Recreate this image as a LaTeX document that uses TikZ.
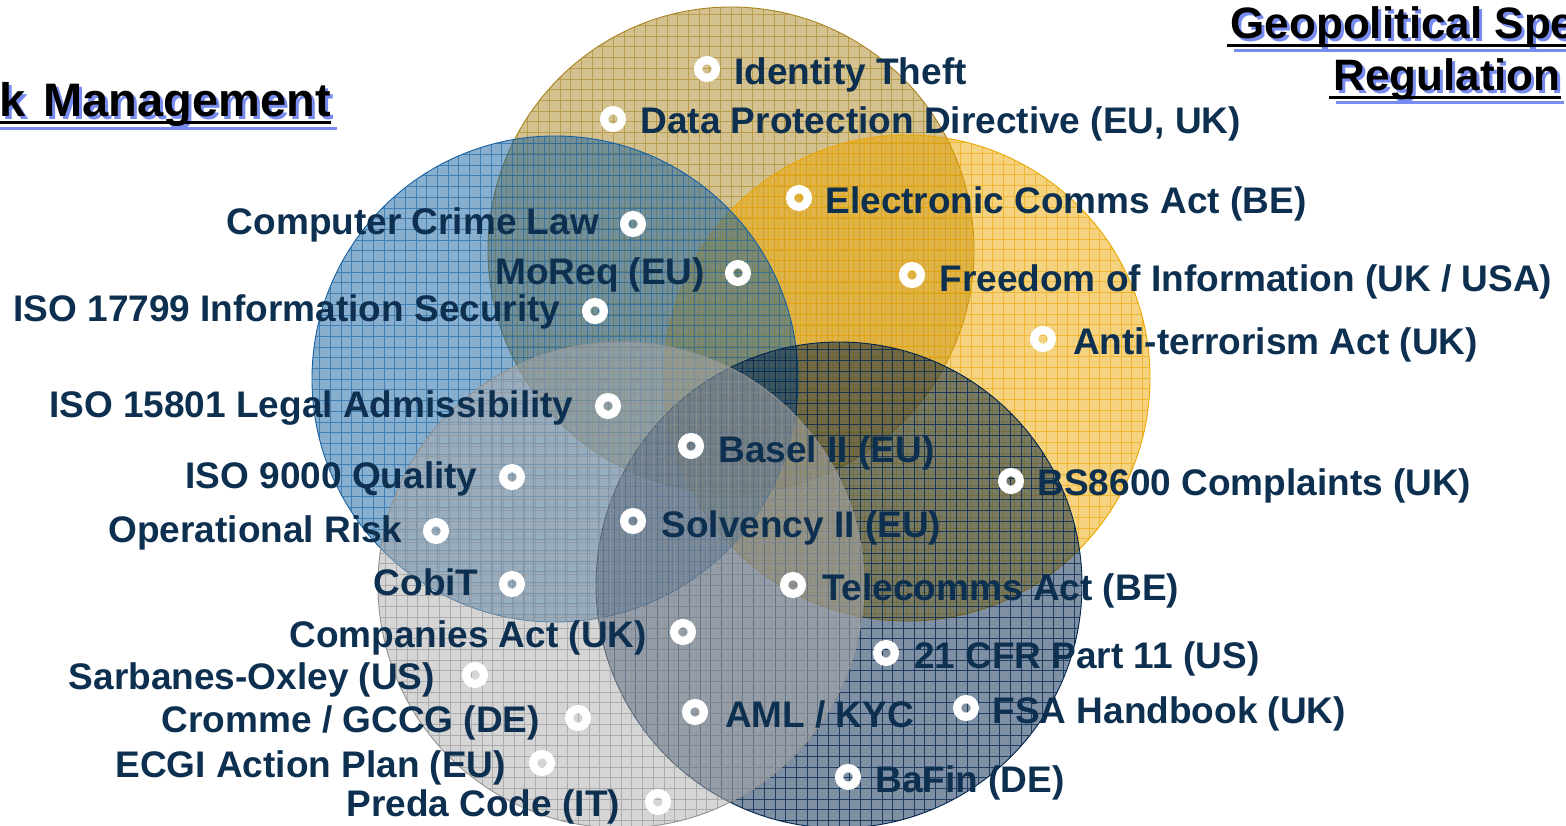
\documentclass[tikz,border=0pt]{standalone}
\usepackage{fontspec}
\setmainfont{Liberation Sans}
\usetikzlibrary{calc}
\definecolor{tanc}{RGB}{168,132,32}
\definecolor{goldc}{RGB}{235,167,0}
\definecolor{bluec}{RGB}{20,97,161}
\definecolor{greyc}{RGB}{172,172,172}
\definecolor{navyc}{RGB}{0,35,75}
\definecolor{txtc}{RGB}{14,48,80}
\definecolor{shadowc}{RGB}{120,140,240}
\newcommand\myvenn[4]{%
  \begin{scope}
    \clip (#1) circle[radius=243pt];
    \fill[#2, opacity=0.5] (#1) circle[radius=243pt];
    \draw[#3, opacity=#4, line width=0.55pt]
      foreach \k in {-23,...,23} {
        ($(#1)+(\k*10.7pt,-250pt)$) -- ($(#1)+(\k*10.7pt,250pt)$)
        ($(#1)+(-250pt,\k*10.7pt)$) -- ($(#1)+(250pt,\k*10.7pt)$)
      };
  \end{scope}
  \draw[#3, line width=0.9pt] (#1) circle[radius=243pt];
}
\newcommand\risktitle{Risk\kern5.5pt\ Management}
\begin{document}
\begin{tikzpicture}[x=1pt,y=-1pt,
  lab/.style={inner sep=0pt, outer sep=0pt, text=txtc, font=\fontsize{37pt}{44pt}\selectfont\bfseries},
  ring/.style={circle, draw=white, line width=8.3pt, minimum size=17.7pt, inner sep=0pt, outer sep=0pt},
  ttl/.style={inner sep=0pt, outer sep=0pt, font=\fontsize{44pt}{52pt}\selectfont\bfseries},
  ttlL/.style={inner sep=0pt, outer sep=0pt, font=\fontsize{47pt}{54pt}\selectfont\bfseries},
]
\useasboundingbox (0,0) rectangle (1566,826);
\fill[white] (0,0) rectangle (1566,826);

\coordinate (ctan) at (731,250);
\coordinate (cgold) at (907,378);
\coordinate (cblue) at (555,379);
\coordinate (cnavy) at (839,585);
\coordinate (cgrey) at (621,585);

\myvenn{ctan}{tanc}{tanc}{0.6}
\myvenn{cgold}{goldc}{goldc}{0.6}
\myvenn{cblue}{bluec}{bluec}{0.6}
\myvenn{cnavy}{navyc}{navyc}{0.75}
\myvenn{cgrey}{greyc}{greyc!85!black}{0.6}

% titles
\node[ttlL, text=shadowc, anchor=base east] (t1s) at (334,120) {\risktitle};
\draw[shadowc, line width=3pt] ([shift={(3pt,-9pt)}]t1s.base west) -- ([shift={(3pt,-9pt)}]t1s.base east);
\node[ttlL, text=black, anchor=base east] (t1) at (331,117) {\risktitle};
\draw[black, line width=3pt] ([yshift=-6pt]t1.base west) -- ([yshift=-6pt]t1.base east);

\node[ttl, text=shadowc, anchor=base] (t2s) at (1450,42) {Geopolitical Specific};
\draw[shadowc, line width=3pt] ([shift={(0pt,-9pt)}]t2s.base west) -- ([shift={(0pt,-9pt)}]t2s.base east);
\node[ttl, text=black, anchor=base] (t2) at (1447,39) {Geopolitical Specific};
\draw[black, line width=3pt] ([shift={(-4pt,-6.5pt)}]t2.base west) -- ([yshift=-6.5pt]t2.base east);

\node[ttl, text=shadowc, anchor=base] (t3s) at (1450,94) {Regulation};
\draw[shadowc, line width=3pt] ([shift={(0pt,-9pt)}]t3s.base west) -- ([shift={(0pt,-9pt)}]t3s.base east);
\node[ttl, text=black, anchor=base] (t3) at (1447,91) {Regulation};
\draw[black, line width=3pt] ([shift={(-4pt,-6.5pt)}]t3.base west) -- ([yshift=-6.5pt]t3.base east);

% bullets
\node[ring] (b1) at (707,69) {};
\node[ring] (b2) at (613,119) {};
\node[ring] (b3) at (799,198) {};
\node[ring] (b4) at (912,275) {};
\node[ring] (b5) at (1043,339) {};
\node[ring] (b6) at (691,446) {};
\node[ring] (b7) at (1011,481) {};
\node[ring] (b8) at (633,521) {};
\node[ring] (b9) at (793,585) {};
\node[ring] (b10) at (886,653) {};
\node[ring] (b11) at (695,712) {};
\node[ring] (b12) at (966,708) {};
\node[ring] (b13) at (848,777) {};
\node[ring] (b14) at (633,224) {};
\node[ring] (b15) at (738,273) {};
\node[ring] (b16) at (595,311) {};
\node[ring] (b17) at (608,406) {};
\node[ring] (b18) at (512,477) {};
\node[ring] (b19) at (436,531) {};
\node[ring] (b20) at (512,584) {};
\node[ring] (b21) at (683,632) {};
\node[ring] (b22) at (475,675) {};
\node[ring] (b23) at (578,718) {};
\node[ring] (b24) at (542,763) {};
\node[ring] (b25) at (658,802) {};

% labels right of bullets
\node[lab, anchor=base west] (l1) at (734.5,85) {Identity Theft};
\node[lab, anchor=base west] (l2) at (640.5,134) {Data Protection Directive (EU, UK)};
\node[lab, anchor=base west] (l3) at (825.5,214) {Electronic Comms Act (BE)};
\node[lab, anchor=base west] (l4) at (939.5,291) {Freedom of Information (UK / USA)};
\node[lab, anchor=base west] (l5) at (1073,354) {Anti-terrorism Act (UK)};
\node[lab, anchor=base west] (l6) at (718.5,462) {Basel II (EU)};
\node[lab, anchor=base west] (l7) at (1037.5,495) {BS8600 Complaints (UK)};
\node[lab, anchor=base west] (l8) at (661.5,537) {Solvency II (EU)};
\node[lab, anchor=base west] (l9) at (822,600) {Telecomms Act (BE)};
\node[lab, anchor=base west] (l10) at (914,668) {21 CFR Part 11 (US)};
\node[lab, anchor=base west] (l11) at (725,727) {AML / KYC};
\node[lab, anchor=base west] (l12) at (992.5,723) {FSA Handbook (UK)};
\node[lab, anchor=base west] (l13) at (875.5,792) {BaFin (DE)};

% labels left of bullets
\node[lab, anchor=base east] (l14) at (599,235) {Computer Crime Law};
\node[lab, anchor=base east] (l15) at (705,285) {MoReq (EU)};
\node[lab, anchor=base east] (l16) at (560.5,322) {ISO 17799 Information Security};
\node[lab, anchor=base east] (l17) at (573.5,417) {ISO 15801 Legal Admissibility};
\node[lab, anchor=base east] (l18) at (477.5,488) {ISO 9000 Quality};
\node[lab, anchor=base east] (l19) at (402.5,542) {Operational Risk};
\node[lab, anchor=base east] (l20) at (478.5,595) {CobiT};
\node[lab, anchor=base east] (l21) at (647,647) {Companies Act (UK)};
\node[lab, anchor=base east] (l22) at (435,689) {Sarbanes-Oxley (US)};
\node[lab, anchor=base east] (l23) at (540,732) {Cromme / GCCG (DE)};
\node[lab, anchor=base east] (l24) at (506,777) {ECGI Action Plan (EU)};
\node[lab, anchor=base east] (l25) at (620,816) {Preda Code (IT)};
\end{tikzpicture}
\end{document}
